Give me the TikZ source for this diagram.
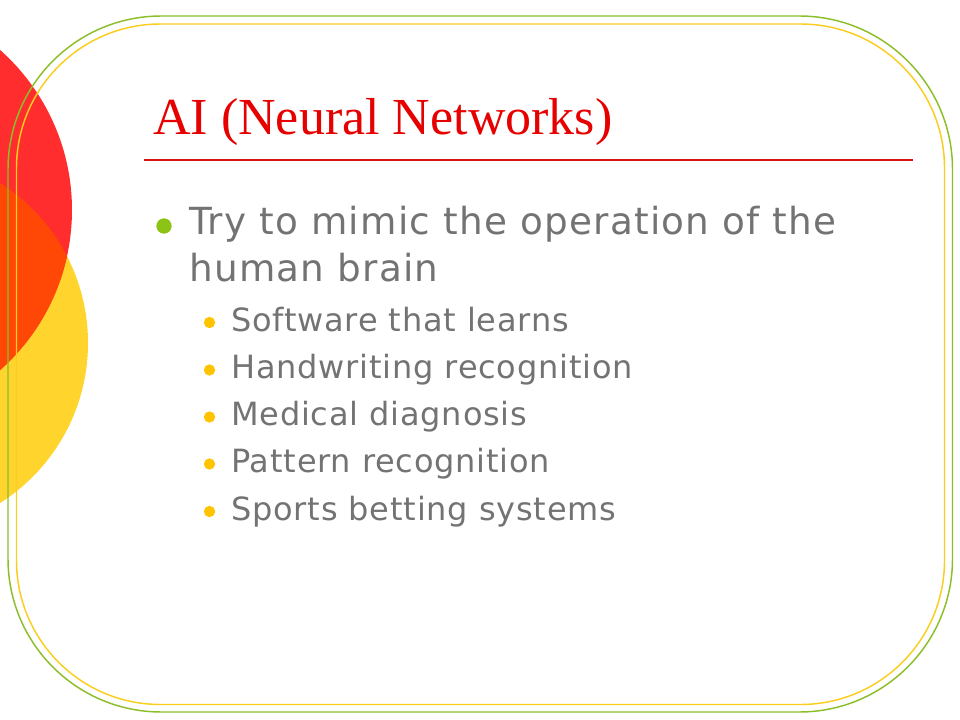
\documentclass[tikz,border=0pt]{standalone}
\usepackage{fontspec}
\setmainfont{Liberation Serif}
\newfontfamily\bodyfont[LetterSpace=3.3]{DejaVu Sans}
\newfontfamily\subfont[LetterSpace=2.5]{DejaVu Sans}
\definecolor{titlered}{RGB}{230,0,0}
\definecolor{rulered}{RGB}{215,20,20}
\definecolor{bodygray}{RGB}{115,115,115}
\definecolor{bordergreen}{RGB}{140,190,40}
\definecolor{borderyellow}{RGB}{250,205,30}
\definecolor{bulletgreen}{RGB}{140,195,20}
\definecolor{bulletyellow}{RGB}{255,195,0}
\definecolor{circred}{RGB}{255,45,45}
\definecolor{circyellow}{RGB}{255,212,45}
\definecolor{circorange}{RGB}{255,72,5}
\tikzset{
  titletext/.style={anchor=base west, inner sep=0pt, text=titlered, font=\fontsize{39}{39}\selectfont},
  maintext/.style={anchor=base west, inner sep=0pt, text=bodygray, font=\bodyfont\fontsize{28}{28}\selectfont},
  subtext/.style={anchor=base west, inner sep=0pt, text=bodygray, font=\subfont\fontsize{24}{24}\selectfont},
  mainbullet/.style={circle, fill=bulletgreen, inner sep=0pt, minimum size=11.5pt},
  subbullet/.style={circle, fill=bulletyellow, inner sep=0pt, minimum size=8.5pt},
}
\begin{document}
\begin{tikzpicture}[x=0.75pt,y=-0.75pt]
\useasboundingbox (0,0) rectangle (960,720);
\clip (0,0) rectangle (960,720);
% decorative circles
\fill[circyellow] (-101.5,343) circle[radius=189.5];
\fill[circred] (-142,210) circle[radius=214];
\begin{scope}
  \clip (-142,210) circle[radius=214];
  \fill[circorange] (-101.5,343) circle[radius=189.5];
\end{scope}
% borders
\draw[bordergreen, line width=1.1pt, rounded corners=115] (8,16) rectangle (952.5,712);
\draw[borderyellow, line width=1.1pt, rounded corners=108] (16.5,24) rectangle (944.5,704.5);
% title
\node[titletext] (title) at (153,135) {AI (Neural Networks)};
\coordinate (ruleL) at (144,160);
\coordinate (ruleR) at (913,160);
\draw[rulered, line width=0.9pt] (ruleL) -- (ruleR);
% main bullet
\node[mainbullet] (b0) at (164,226) {};
\node[maintext] (t0a) at (189,234.3) {Try to mimic the operation of the};
\node[maintext] (t0b) at (189,281.7) {human brain};
% sub bullets
\node[subbullet] (b1) at (209.5,322.5) {};
\node[subtext] (t1) at (231,331) {Software that learns};
\node[subbullet] (b2) at (209.5,370) {};
\node[subtext] (t2) at (231,378.5) {Handwriting recognition};
\node[subbullet] (b3) at (209.5,417) {};
\node[subtext] (t3) at (231,425.5) {Medical diagnosis};
\node[subbullet] (b4) at (209.5,464) {};
\node[subtext] (t4) at (231,472.5) {Pattern recognition};
\node[subbullet] (b5) at (209.5,511.5) {};
\node[subtext] (t5) at (231,520) {Sports betting systems};
\end{tikzpicture}
\end{document}
